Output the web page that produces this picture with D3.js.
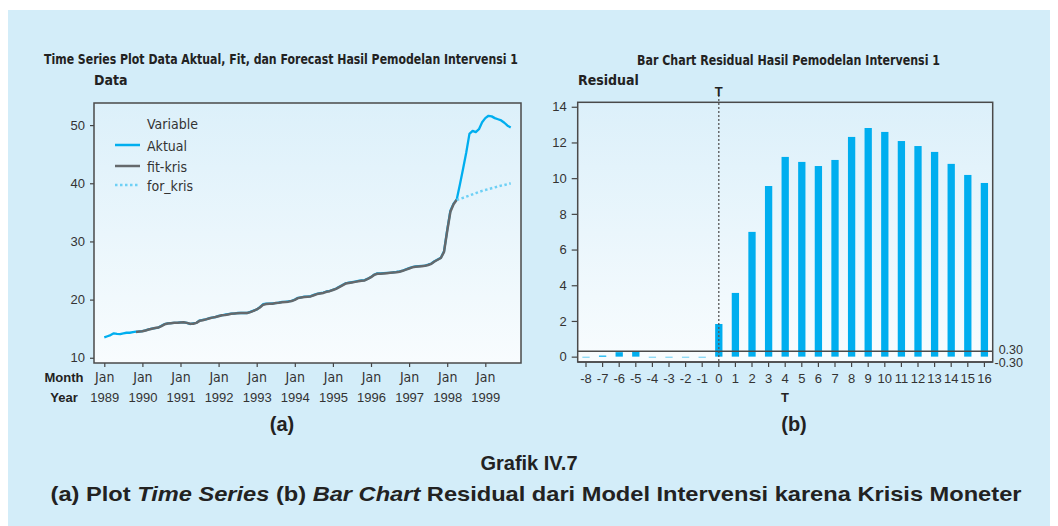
<!DOCTYPE html>
<html lang="en">
<head>
	<meta charset="UTF-8"/>
	<title>Grafik IV.7</title>
	<script src="https://d3js.org/d3.v7.min.js"></script>
	<style>
		body { margin: 0; background: #fff; }
		text { font-family: "Liberation Sans", Arial, sans-serif; fill: #333; }
		.bold { font-weight: bold; fill: #222; }
		.narrow { font-family: "Liberation Sans Narrow", "DejaVu Sans Condensed", "Liberation Sans", sans-serif; }
	</style>
</head>
<body>
<script>

	var w = 1058;
	var h = 526;

	// data aktual bulanan, Jan 1989 - Sep 1999
	var aktual = [
		13.5, 13.7, 13.9, 14.2, 14.1, 14.07, 14.2, 14.3, 14.3, 14.4, 14.5, 14.5,
		14.6, 14.7, 14.9, 15.0, 15.1, 15.2, 15.5, 15.8, 15.9, 15.95, 16.0, 16.0,
		16.1, 16.1, 16.0, 15.8, 15.9, 16.0, 16.4, 16.5, 16.6, 16.8, 16.9, 17.0,
		17.2, 17.3, 17.4, 17.5, 17.6, 17.6, 17.7, 17.7, 17.7, 17.7, 17.9, 18.1,
		18.3, 18.7, 19.2, 19.3, 19.3, 19.35, 19.4, 19.5, 19.6, 19.6, 19.7, 19.8,
		20.0, 20.3, 20.4, 20.5, 20.5, 20.6, 20.8, 21.0, 21.1, 21.2, 21.4, 21.5,
		21.7, 21.9, 22.2, 22.5, 22.8, 22.9, 23.0, 23.1, 23.2, 23.3, 23.35, 23.6,
		23.9, 24.3, 24.5, 24.5, 24.55, 24.6, 24.6, 24.7, 24.75, 24.85, 25.0, 25.2,
		25.4, 25.6, 25.7, 25.75, 25.8, 25.85, 26.0, 26.2, 26.6, 26.9, 27.2, 28.3,
		32.0, 35.3, 36.5, 37.2, 39.8, 42.5, 45.3, 48.5, 49.0, 48.8, 49.3, 50.5,
		51.2, 51.6, 51.5, 51.2, 51.0, 50.8, 50.4, 49.9, 49.6
	];

	// fit-kris mulai bulan ke-10
	var fitStart = 10;
	var fitKris = [
		14.45, 14.5,
		14.55, 14.7, 14.85, 15.0, 15.1, 15.2, 15.45, 15.75, 15.9, 15.95, 16.0, 16.0,
		16.05, 16.1, 16.0, 15.85, 15.85, 16.0, 16.35, 16.45, 16.6, 16.75, 16.9, 17.0,
		17.15, 17.3, 17.35, 17.45, 17.55, 17.6, 17.65, 17.7, 17.7, 17.7, 17.85, 18.05,
		18.3, 18.65, 19.1, 19.25, 19.3, 19.3, 19.4, 19.45, 19.55, 19.6, 19.65, 19.75,
		19.95, 20.25, 20.35, 20.45, 20.5, 20.55, 20.75, 20.95, 21.05, 21.15, 21.35, 21.45,
		21.65, 21.85, 22.15, 22.45, 22.75, 22.85, 22.95, 23.05, 23.15, 23.25, 23.3, 23.55,
		23.85, 24.25, 24.45, 24.45, 24.5, 24.55, 24.6, 24.65, 24.7, 24.8, 24.95, 25.15,
		25.35, 25.55, 25.65, 25.7, 25.75, 25.8, 25.95, 26.15, 26.55, 26.85, 27.15, 28.2,
		31.8, 35.1, 36.4, 37.15
	];

	// for_kris mulai bulan ke-111
	var forStart = 111;
	var forKris = [
		37.15, 37.3, 37.5, 37.7, 37.9, 38.1, 38.3, 38.5, 38.7,
		38.85, 39.0, 39.15, 39.3, 39.45, 39.6, 39.7, 39.85, 40.0
	];

	var yearLabels = ["1989", "1990", "1991", "1992", "1993", "1994", "1995", "1996", "1997", "1998", "1999"];
	var yTicksA = [10, 20, 30, 40, 50];

	// residual per T
	var tLabels = ["-8", "-7", "-6", "-5", "-4", "-3", "-2", "-1", "0", "1", "2", "3", "4",
		"5", "6", "7", "8", "9", "10", "11", "12", "13", "14", "15", "16"];
	var residual = [-0.06, 0.06, 0.25, 0.27, -0.05, -0.05, -0.06, -0.07, 1.83, 3.57, 6.99, 9.56, 11.19,
		10.91, 10.68, 11.02, 12.31, 12.81, 12.59, 12.08, 11.80, 11.47, 10.80, 10.18, 9.73];
	var yTicksB = [0, 2, 4, 6, 8, 10, 12, 14];
	var limitB = [0.30, -0.30];

	var svg = d3.select("body")
				.append("svg")
				.attr("width", w)
				.attr("height", h);

	var defs = svg.append("defs");
	var grad = defs.append("linearGradient")
				.attr("id", "plotbg")
				.attr("x1", 0).attr("y1", 0)
				.attr("x2", 0).attr("y2", 1);
	grad.append("stop").attr("offset", "0%").attr("stop-color", "#dcf0fa");
	grad.append("stop").attr("offset", "100%").attr("stop-color", "#f8fcfe");

	// latar biru muda
	svg.append("rect")
		.attr("x", 8).attr("y", 10)
		.attr("width", 1042).attr("height", 516)
		.attr("fill", "#d3edf9");

	//---------------- (a) time series ----------------
	var xA = d3.scaleLinear().domain([-3.24, 131.24]).range([94, 521]);
	var yA = d3.scaleLinear().domain([9.1, 53.8]).range([363, 103]);

	svg.append("rect")
		.attr("x", 94).attr("y", 103)
		.attr("width", 427).attr("height", 260)
		.attr("fill", "url(#plotbg)");

	var yAxisA = svg.append("g")
		.attr("transform", "translate(94,0)")
		.call(d3.axisLeft(yA).tickValues(yTicksA).tickSize(4).tickPadding(5));

	var xAxisA = svg.append("g")
		.attr("transform", "translate(0,363)")
		.call(d3.axisBottom(xA)
			.tickValues(yearLabels.map(function(d, i){ return i * 12; }))
			.tickSize(4).tickPadding(5.5)
			.tickFormat(function(){ return "Jan"; }));

	xAxisA.selectAll(".tick text").attr("class", "narrow");
	xAxisA.selectAll(".tick")
		.append("text")
		.attr("y", 38.5)
		.attr("text-anchor", "middle")
		.attr("fill", "#333")
		.text(function(d){ return yearLabels[d / 12]; });

	[yAxisA, xAxisA].forEach(function(g){
		g.select(".domain").remove();
		g.selectAll(".tick line").attr("stroke", "#444").attr("stroke-width", 1.2);
		g.selectAll("text").style("font-size", "13px").attr("fill", "#333");
	});
	xAxisA.selectAll(".tick text.narrow").style("font-size", "14px");

	svg.append("text").attr("class", "bold")
		.attr("x", 64).attr("y", 382).attr("text-anchor", "middle")
		.style("font-size", "13px").text("Month");
	svg.append("text").attr("class", "bold")
		.attr("x", 64).attr("y", 401.5).attr("text-anchor", "middle")
		.style("font-size", "13px").text("Year");

	var lineA = d3.line()
		.x(function(d){ return xA(d[0]); })
		.y(function(d){ return yA(d[1]); });

	function toPts(arr, start){
		return arr.map(function(d, i){ return [start + i, d]; });
	}

	svg.append("path")
		.attr("d", lineA(toPts(aktual, 0)))
		.attr("fill", "none")
		.attr("stroke", "#00aeef")
		.attr("stroke-width", 2.3)
		.attr("stroke-linejoin", "round");

	svg.append("path")
		.attr("d", lineA(toPts(fitKris, fitStart)))
		.attr("fill", "none")
		.attr("stroke", "#65696c")
		.attr("stroke-width", 2.5)
		.attr("stroke-linejoin", "round");

	svg.append("path")
		.attr("d", lineA(toPts(forKris, forStart)))
		.attr("fill", "none")
		.attr("stroke", "#6ed0f5")
		.attr("stroke-width", 2.5)
		.attr("stroke-dasharray", "2.5,2.5");

	svg.append("rect")
		.attr("x", 94).attr("y", 103)
		.attr("width", 427).attr("height", 260)
		.attr("fill", "none")
		.attr("stroke", "#4a4a4a")
		.attr("stroke-width", 1.5);

	// legend
	var legendItems = [
		{name: "Aktual", color: "#00aeef", dash: null, y: 145},
		{name: "fit-kris", color: "#65696c", dash: null, y: 166},
		{name: "for_kris", color: "#6ed0f5", dash: "2.5,2.5", y: 185}
	];
	svg.append("text").attr("class", "narrow")
		.attr("x", 147).attr("y", 129)
		.style("font-size", "14px").text("Variable");
	svg.selectAll(".leg-line")
		.data(legendItems)
		.enter()
		.append("line")
		.attr("x1", 115).attr("x2", 140)
		.attr("y1", function(d){ return d.y; })
		.attr("y2", function(d){ return d.y; })
		.attr("stroke", function(d){ return d.color; })
		.attr("stroke-width", 2.5)
		.attr("stroke-dasharray", function(d){ return d.dash; });
	svg.selectAll(".leg-text")
		.data(legendItems)
		.enter()
		.append("text")
		.attr("class", "narrow")
		.attr("x", 147)
		.attr("y", function(d){ return d.y + 5.5; })
		.style("font-size", "14px")
		.text(function(d){ return d.name; });

	svg.append("text").attr("class", "bold narrow")
		.attr("x", 44).attr("y", 64)
		.attr("textLength", 474).attr("lengthAdjust", "spacingAndGlyphs")
		.style("font-size", "14px")
		.text("Time Series Plot Data Aktual, Fit, dan Forecast Hasil Pemodelan Intervensi 1");
	svg.append("text").attr("class", "bold narrow")
		.attr("x", 94).attr("y", 85)
		.style("font-size", "14px").text("Data");

	//---------------- (b) bar chart residual ----------------
	var xB = d3.scaleBand().domain(tLabels).range([577.7, 992.7]).paddingInner(0.56).paddingOuter(0.28);
	var yB = d3.scaleLinear().domain([-0.3, 14.25]).range([362, 102.3]);

	svg.append("rect")
		.attr("x", 577.7).attr("y", 102.3)
		.attr("width", 415).attr("height", 259.7)
		.attr("fill", "url(#plotbg)");

	var yAxisB = svg.append("g")
		.attr("transform", "translate(577.7,0)")
		.call(d3.axisLeft(yB).tickValues(yTicksB).tickSize(6).tickPadding(5));
	var xAxisB = svg.append("g")
		.attr("transform", "translate(0,362)")
		.call(d3.axisBottom(xB).tickSize(5).tickPadding(6.5));

	[yAxisB, xAxisB].forEach(function(g){
		g.select(".domain").remove();
		g.selectAll(".tick line").attr("stroke", "#444").attr("stroke-width", 1.2);
		g.selectAll("text").style("font-size", "13px").attr("fill", "#333");
	});

	svg.selectAll(".bar")
		.data(residual)
		.enter()
		.append("rect")
		.attr("class", "bar")
		.attr("x", function(d, i){ return xB(tLabels[i]); })
		.attr("width", xB.bandwidth())
		.attr("y", function(d){ return yB(Math.max(0, d)); })
		.attr("height", function(d){ return Math.max(1.2, Math.abs(yB(d) - yB(0))); })
		.attr("fill", function(d){ return d < 0 ? "#7fd5f5" : "#00aeef"; });

	// garis batas 0.30 dan -0.30
	svg.selectAll(".limit")
		.data(limitB)
		.enter()
		.append("line")
		.attr("x1", 577.7).attr("x2", 992.7)
		.attr("y1", function(d){ return yB(d); })
		.attr("y2", function(d){ return yB(d); })
		.attr("stroke", "#4a4a4a")
		.attr("stroke-width", 1.5);
	svg.selectAll(".limit-label")
		.data(limitB)
		.enter()
		.append("text")
		.attr("x", 1023)
		.attr("y", function(d){ return yB(d) + (d > 0 ? 3 : 5); })
		.attr("text-anchor", "end")
		.style("font-size", "12.5px")
		.text(function(d){ return d.toFixed(2); });

	// garis putus T = 0
	var tx = xB("0") + xB.bandwidth() / 2;
	svg.append("line")
		.attr("x1", tx).attr("x2", tx)
		.attr("y1", 95).attr("y2", 362)
		.attr("stroke", "#555")
		.attr("stroke-width", 1.3)
		.attr("stroke-dasharray", "2,2");

	svg.append("rect")
		.attr("x", 577.7).attr("y", 102.3)
		.attr("width", 415).attr("height", 259.7)
		.attr("fill", "none")
		.attr("stroke", "#4a4a4a")
		.attr("stroke-width", 1.5);

	svg.append("text").attr("class", "bold")
		.attr("x", tx).attr("y", 96).attr("text-anchor", "middle")
		.style("font-size", "13px").text("T");
	svg.append("text").attr("class", "bold")
		.attr("x", 785).attr("y", 401.5).attr("text-anchor", "middle")
		.style("font-size", "13px").text("T");
	svg.append("text").attr("class", "bold narrow")
		.attr("x", 578).attr("y", 85)
		.style("font-size", "14px").text("Residual");
	svg.append("text").attr("class", "bold narrow")
		.attr("x", 637).attr("y", 65)
		.attr("textLength", 303).attr("lengthAdjust", "spacingAndGlyphs")
		.style("font-size", "14px")
		.text("Bar Chart Residual Hasil Pemodelan Intervensi 1");

	//---------------- caption ----------------
	svg.append("text").attr("class", "bold")
		.attr("x", 282).attr("y", 431).attr("text-anchor", "middle")
		.style("font-size", "20px").text("(a)");
	svg.append("text").attr("class", "bold")
		.attr("x", 794).attr("y", 431).attr("text-anchor", "middle")
		.style("font-size", "20px").text("(b)");
	svg.append("text").attr("class", "bold")
		.attr("x", 529).attr("y", 470).attr("text-anchor", "middle")
		.style("font-size", "20px").text("Grafik IV.7");

	var cap = svg.append("text").attr("class", "bold")
		.attr("x", 536).attr("y", 501).attr("text-anchor", "middle")
		.style("font-size", "20px");
	cap.append("tspan").text("(a) Plot ");
	cap.append("tspan").style("font-style", "italic").text("Time Series");
	cap.append("tspan").text(" (b) ");
	cap.append("tspan").style("font-style", "italic").text("Bar Chart");
	cap.append("tspan").text(" Residual dari Model Intervensi karena Krisis Moneter");

	// sesuaikan lebar caption
	var capW = cap.node().getComputedTextLength();
	var k = 972 / capW;
	cap.attr("transform", "translate(536,0) scale(" + k + ",1) translate(-536,0)");

</script>
</body>
</html>
